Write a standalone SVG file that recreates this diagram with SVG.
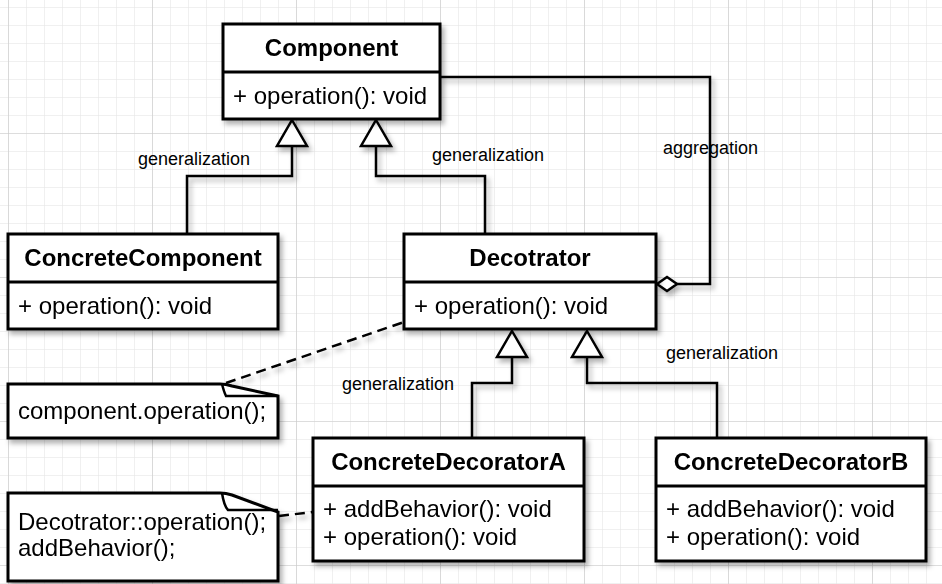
<svg xmlns="http://www.w3.org/2000/svg" width="942" height="584" viewBox="0 0 942 584">
<defs>
  <pattern id="minor" x="8" y="7" width="18" height="18" patternUnits="userSpaceOnUse">
    <path d="M0,0 H18 M0,0 V18" fill="none" stroke="#e2e2e2" stroke-width="1"/>
  </pattern>
  <pattern id="major" x="8" y="-11" width="144" height="144" patternUnits="userSpaceOnUse">
    <path d="M0,0 H144 M0,0 V144" fill="none" stroke="#cacaca" stroke-width="1.2"/>
  </pattern>
  <filter id="sh" x="-10%" y="-10%" width="130%" height="140%">
    <feDropShadow dx="3" dy="4" stdDeviation="2.5" flood-color="#000" flood-opacity="0.3"/>
  </filter>
</defs>
<style>
  .box { fill: #fff; stroke: #000; stroke-width: 3; }
  .div { stroke: #000; stroke-width: 3; }
  .title { font-family: "Liberation Sans", Arial, sans-serif; font-weight: bold; font-size: 24px; fill: #000; text-anchor: middle; }
  .mem { font-family: "Liberation Sans", Arial, sans-serif; font-size: 24px; fill: #000; }
  .lbl { font-family: "Liberation Sans", Arial, sans-serif; font-size: 18px; fill: #000; }
  .conn { fill: none; stroke: #000; stroke-width: 2.5; }
  .dash { fill: none; stroke: #000; stroke-width: 2.5; stroke-dasharray: 10 6; }
  .tri { fill: #fff; stroke: #000; stroke-width: 2.5; stroke-linejoin: miter; }
</style>
<rect width="942" height="584" fill="#fff"/>
<rect width="942" height="584" fill="url(#minor)"/>
<rect width="942" height="584" fill="url(#major)"/>

<g id="connectors" filter="url(#sh)">
  <path class="conn" d="M187,234 V176 H292 V146"/>
  <path class="tri" d="M292,120 L307,146 L277,146 Z"/>
  <path class="conn" d="M485,234 V176 H376 V146"/>
  <path class="tri" d="M376,120 L391,146 L361,146 Z"/>
  <path class="conn" d="M440,77 H710 V284 H676"/>
  <path class="tri" d="M657,284 L667,277 L677,284 L667,291 Z"/>
  <path class="conn" d="M472,438 V383 H512 V357"/>
  <path class="tri" d="M512,331 L527,357 L497,357 Z"/>
  <path class="conn" d="M717,438 V383 H587 V357"/>
  <path class="tri" d="M587,331 L602,357 L572,357 Z"/>
  <path class="dash" d="M226,383 L404,322"/>
  <path class="dash" d="M279,516 L313,512"/>
</g>
<g id="labels">
  <text class="lbl" x="138" y="165">generalization</text>
  <text class="lbl" x="432" y="161">generalization</text>
  <text class="lbl" x="663" y="154">aggregation</text>
  <text class="lbl" x="342" y="390">generalization</text>
  <text class="lbl" x="666" y="359">generalization</text>
</g>

<g id="Component" filter="url(#sh)">
  <rect class="box" x="223" y="24" width="217" height="95"/>
  <line class="div" x1="223" y1="72" x2="440" y2="72"/>
  <text class="title" x="331.5" y="56">Component</text>
  <text class="mem" x="233" y="104">+ operation(): void</text>
</g>
<g id="ConcreteComponent" filter="url(#sh)">
  <rect class="box" x="8" y="234" width="270" height="95"/>
  <line class="div" x1="8" y1="282" x2="278" y2="282"/>
  <text class="title" x="143" y="266">ConcreteComponent</text>
  <text class="mem" x="18" y="314">+ operation(): void</text>
</g>
<g id="Decotrator" filter="url(#sh)">
  <rect class="box" x="404" y="234" width="252" height="95"/>
  <line class="div" x1="404" y1="282" x2="656" y2="282"/>
  <text class="title" x="530" y="266">Decotrator</text>
  <text class="mem" x="414" y="314">+ operation(): void</text>
</g>
<g id="ConcreteDecoratorA" filter="url(#sh)">
  <rect class="box" x="313" y="438" width="271" height="123"/>
  <line class="div" x1="313" y1="486" x2="584" y2="486"/>
  <text class="title" x="448.5" y="470">ConcreteDecoratorA</text>
  <text class="mem" x="323" y="517">+ addBehavior(): void</text>
  <text class="mem" x="323" y="545">+ operation(): void</text>
</g>
<g id="ConcreteDecoratorB" filter="url(#sh)">
  <rect class="box" x="656" y="438" width="270" height="123"/>
  <line class="div" x1="656" y1="486" x2="926" y2="486"/>
  <text class="title" x="791" y="470">ConcreteDecoratorB</text>
  <text class="mem" x="666" y="517">+ addBehavior(): void</text>
  <text class="mem" x="666" y="545">+ operation(): void</text>
</g>
<g id="note1" filter="url(#sh)">
  <path class="box" d="M8,384 H220 Q226,384 232,386 L278,396 V438 H8 Z"/>
  <path class="conn" d="M222,384 Q224,392 226,396 H278"/>
  <text class="mem" x="18" y="419">component.operation();</text>
</g>
<g id="note2" filter="url(#sh)">
  <path class="box" d="M8,493 H220 Q226,493 232,495 L278,512 V581 H8 Z"/>
  <path class="conn" d="M222,493 Q224,506 228,510 H278"/>
  <text class="mem" x="18" y="530">Decotrator::operation();</text>
  <text class="mem" x="18" y="556">addBehavior();</text>
</g>
</svg>
